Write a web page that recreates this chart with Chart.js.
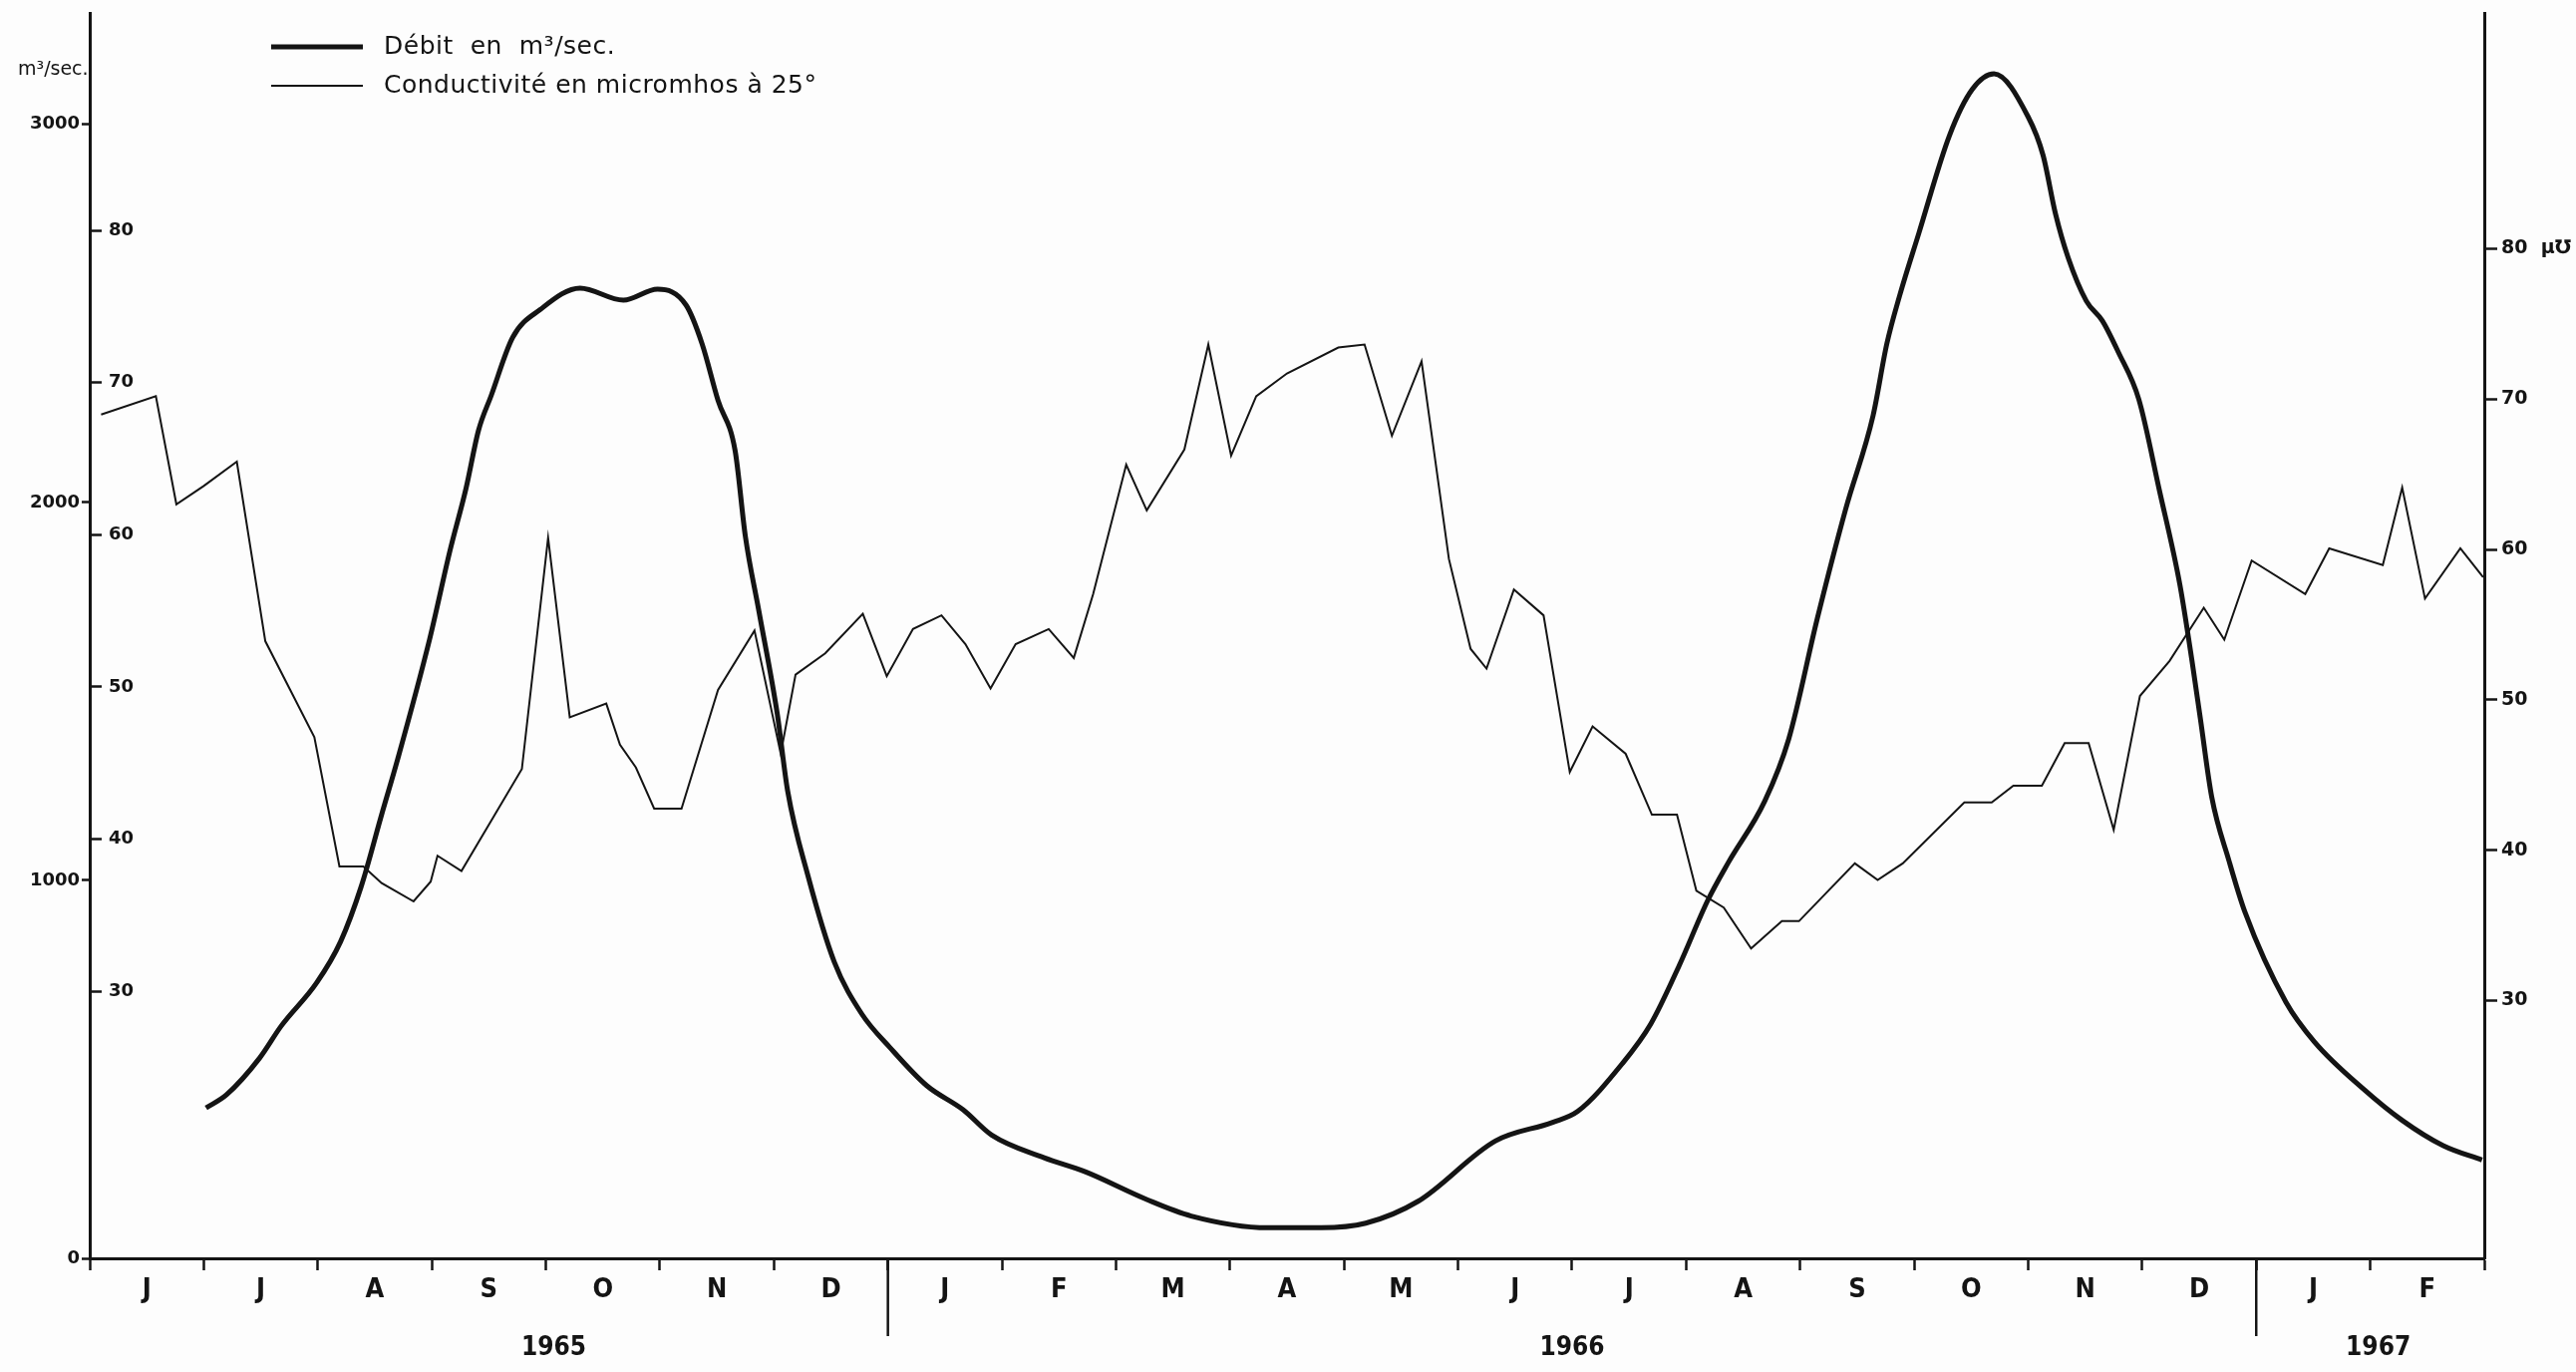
<!DOCTYPE html>
<html><head><meta charset="utf-8">
<script src="https://cdn.jsdelivr.net/npm/chart.js@4.4.0/dist/chart.umd.min.js"></script>
<style>html,body{margin:0;padding:0;background:#fdfdfd;overflow:hidden}canvas{display:block}</style>
</head><body>
<canvas id="c" width="2584" height="1376"></canvas>
<script>
// ---- data ----
const monthLabels = ['J','J','A','S','O','N','D','J','F','M','A','M','J','J','A','S','O','N','D','J','F'];
const yearLabels = ['1965','1966','1967'];
const yearLabelAt = [4.07, 13.0, 20.07];   // month index where each year label sits
const yearBreaks = [7, 19];                 // January 1966, January 1967
const debitTicks = [0, 1000, 2000, 3000];
const condTicks = [30, 40, 50, 60, 70, 80];

// months since 1 June 1965
const debitMonths = [1.02,1.20,1.49,1.68,1.99,2.20,2.38,2.56,2.70,2.98,3.16,3.30,3.41,3.52,3.71,3.95,4.30,4.68,4.98,5.23,5.37,5.51,5.66,5.75,5.87,6.03,6.12,6.30,6.53,6.77,7.02,7.34,7.66,7.91,8.37,8.73,9.26,9.66,10.33,10.80,11.19,11.65,12.33,12.83,13.05,13.44,13.69,13.94,14.19,14.37,14.69,14.90,15.15,15.40,15.64,15.76,15.87,16.04,16.31,16.51,16.70,17.00,17.13,17.24,17.35,17.51,17.65,17.79,17.97,18.15,18.33,18.44,18.51,18.61,18.76,18.90,19.26,19.51,19.94,20.28,20.64,20.98];
const debitValues = [398,433,530,615,729,838,983,1174,1320,1637,1873,2037,2191,2282,2437,2510,2567,2535,2564,2522,2420,2270,2137,1910,1710,1440,1238,1011,784,647,557,457,393,326,266,229,157,112,81,81,93,151,311,360,389,515,620,775,947,1047,1210,1374,1692,1983,2230,2419,2544,2711,2971,3093,3134,3020,2919,2763,2648,2533,2481,2398,2273,2033,1783,1574,1428,1220,1053,917,678,573,448,365,298,260];

const condMonths = [0.10,0.58,0.76,1.00,1.29,1.54,1.97,2.19,2.40,2.56,2.84,2.99,3.05,3.26,3.79,4.02,4.21,4.53,4.65,4.79,4.95,5.19,5.51,5.83,6.06,6.19,6.45,6.78,6.99,7.22,7.47,7.68,7.90,8.12,8.41,8.63,8.80,9.09,9.27,9.60,9.81,10.01,10.23,10.50,10.95,11.18,11.42,11.68,11.92,12.11,12.25,12.49,12.75,12.98,13.18,13.47,13.70,13.92,14.09,14.33,14.57,14.84,14.99,15.48,15.68,15.90,16.44,16.68,16.87,17.12,17.32,17.53,17.75,17.98,18.24,18.54,18.72,18.96,19.43,19.64,20.11,20.28,20.48,20.79,20.99];
const condValues = [67.9,69.1,62.0,63.2,64.8,53.0,46.7,38.2,38.2,37.1,35.9,37.2,38.9,37.9,44.6,59.8,48.0,48.9,46.2,44.7,42.0,42.0,49.8,53.7,45.6,50.8,52.2,54.8,50.7,53.8,54.7,52.8,49.9,52.8,53.8,51.9,56.1,64.6,61.6,65.6,72.5,65.2,69.1,70.6,72.3,72.5,66.5,71.4,58.4,52.5,51.2,56.4,54.7,44.4,47.4,45.6,41.6,41.6,36.6,35.5,32.8,34.6,34.6,38.4,37.3,38.4,42.4,42.4,43.5,43.5,46.3,46.3,40.6,49.4,51.7,55.2,53.1,58.3,56.1,59.1,58.0,63.1,55.8,59.1,57.2];

// ---- style ----
const INK = '#141414';
const NARROW = "'Liberation Sans Narrow', 'DejaVu Sans Condensed', 'Liberation Sans', sans-serif";
const WIDE = "'DejaVu Sans', 'Liberation Sans', sans-serif";

const debitData = debitMonths.map((m, i) => ({x: m, y: debitValues[i]}));
const condData = condMonths.map((m, i) => ({x: m, y: condValues[i]}));

const noPad = s => { s.paddingTop = 0; s.paddingBottom = 0; s.paddingLeft = 0; s.paddingRight = 0; };

const decor = {
  id: 'decor',
  beforeDraw(chart) {
    const {ctx, width, height} = chart;
    ctx.save(); ctx.fillStyle = '#fdfdfd'; ctx.fillRect(0, 0, width, height); ctx.restore();
  },
  afterDraw(chart) {
    const {ctx, chartArea} = chart;
    const x = chart.scales.x;
    ctx.save();
    ctx.strokeStyle = INK; ctx.fillStyle = INK; ctx.lineCap = 'butt';
    ctx.lineWidth = 2.5;
    yearBreaks.forEach(m => {
      const px = x.getPixelForValue(m);
      ctx.beginPath(); ctx.moveTo(px, chartArea.bottom); ctx.lineTo(px, chartArea.bottom + 78); ctx.stroke();
    });
    ctx.font = 'bold 26px ' + NARROW;
    ctx.textAlign = 'center'; ctx.textBaseline = 'middle';
    yearLabels.forEach((t, i) => ctx.fillText(t, x.getPixelForValue(yearLabelAt[i]), chartArea.bottom + 90));
    // unit of left axis
    ctx.font = '19px ' + WIDE; ctx.textAlign = 'left';
    ctx.fillText('m³/sec.', 18, 70);
    // legend
    ctx.font = '25px ' + WIDE;
    if ('letterSpacing' in ctx) ctx.letterSpacing = '0.5px';
    chart.data.datasets.forEach((ds, i) => {
      const y = 47 + i * 39;
      ctx.lineWidth = ds.borderWidth; ctx.strokeStyle = ds.borderColor;
      ctx.beginPath(); ctx.moveTo(272, y); ctx.lineTo(364, y); ctx.stroke();
      ctx.fillText(ds.label, 385, y);
    });
    ctx.restore();
  }
};

new Chart(document.getElementById('c'), {
  type: 'line',
  data: {
    datasets: [
      {label: 'Débit  en  m³/sec.', data: debitData, yAxisID: 'yDebit', borderColor: INK, borderWidth: 5,
       pointRadius: 0, cubicInterpolationMode: 'monotone', fill: false},
      {label: 'Conductivité en micromhos à 25°', data: condData, yAxisID: 'yCondL', borderColor: INK, borderWidth: 2,
       pointRadius: 0, tension: 0, fill: false}
    ]
  },
  options: {
    responsive: false, animation: false, devicePixelRatio: 1,
    layout: {padding: {top: 13, left: 0, right: 0, bottom: 0}},
    plugins: {legend: {display: false}, tooltip: {enabled: false}},
    scales: {
      x: {
        type: 'linear', min: 0, max: 21, position: 'bottom',
        afterBuildTicks: s => { s.ticks = monthLabels.map((_, i) => ({value: i})).concat([{value: 21}]); },
        afterFit: s => { s.height = 114; noPad(s); },
        ticks: {autoSkip: false, maxRotation: 0, labelOffset: 57.2, padding: 4, color: INK,
                font: {family: NARROW, size: 27, weight: 'bold'},
                callback: (v, i) => monthLabels[i] || ''},
        grid: {drawOnChartArea: false, drawTicks: true, tickLength: 12, tickWidth: 2.5, tickColor: INK},
        border: {display: true, color: INK, width: 3}
      },
      yDebit: {
        type: 'linear', position: 'left', min: 0, max: 3295, weight: 1,
        afterBuildTicks: s => { s.ticks = debitTicks.map(v => ({value: v})); },
        afterFit: s => { s.width = 90; noPad(s); },
        ticks: {padding: 2, color: INK, font: {family: WIDE, size: 18, weight: 'bold'},
                callback: v => String(v)},
        grid: {drawOnChartArea: false, drawTicks: true, tickLength: 8, tickWidth: 2.5, tickColor: INK},
        border: {display: true, color: INK, width: 3}
      },
      yCondL: {
        type: 'linear', position: 'left', min: 12.44, max: 94.29, weight: 0,
        afterBuildTicks: s => { s.ticks = condTicks.map(v => ({value: v})); },
        afterFit: s => { s.width = 0; noPad(s); },
        ticks: {mirror: true, padding: 19, color: INK, font: {family: WIDE, size: 18, weight: 'bold'},
                callback: v => String(v)},
        grid: {drawOnChartArea: false, drawTicks: true, tickLength: -12, tickWidth: 2.5, tickColor: INK},
        border: {display: false}
      },
      yCondR: {
        type: 'linear', position: 'right', min: 12.85, max: 95.69,
        afterBuildTicks: s => { s.ticks = condTicks.map(v => ({value: v})); },
        afterFit: s => { s.width = 92; noPad(s); },
        ticks: {padding: 4, color: INK, font: {family: WIDE, size: 19, weight: 'bold'},
                callback: v => v === 80 ? '80  µ℧' : String(v)},
        grid: {drawOnChartArea: false, drawTicks: true, tickLength: 13, tickWidth: 2.5, tickColor: INK},
        border: {display: true, color: INK, width: 3}
      }
    }
  },
  plugins: [decor]
});
</script>
</body></html>
